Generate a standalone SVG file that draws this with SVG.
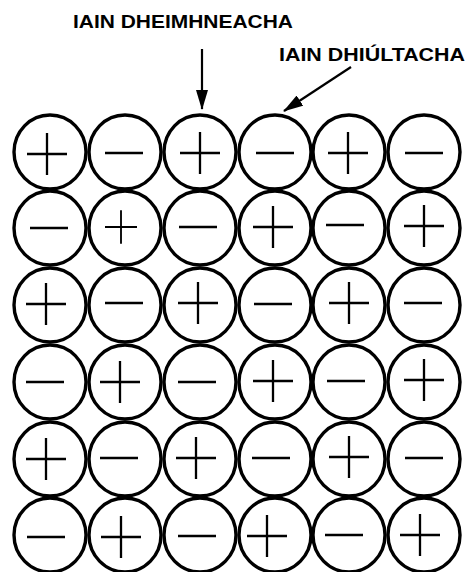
<svg xmlns="http://www.w3.org/2000/svg" width="468" height="572" viewBox="0 0 468 572">
<style>
.ion{fill:#fff;stroke:#000;stroke-width:3.4}
.sg{stroke:#000;stroke-width:2.3;fill:none}
.lbl{font-family:"Liberation Sans",Arial,sans-serif;font-weight:bold;font-size:18.5px;fill:#000}
.ar{stroke:#000;stroke-width:2.2;fill:none}
</style>
<defs>
<marker id="ah" viewBox="0 0 20 12" refX="19" refY="6" markerWidth="20" markerHeight="12" markerUnits="userSpaceOnUse" orient="auto">
<path d="M0,0 L20,6 L0,12 Z" fill="#000"/>
</marker>
<g id="p"><path class="sg" d="M-20,0 H20 M0,-21 V21"/></g>
<g id="m"><path class="sg" d="M-19,0 H19"/></g>
</defs>
<rect width="468" height="572" fill="#fff"/>
<text class="lbl" x="73" y="28" textLength="220" lengthAdjust="spacingAndGlyphs">IAIN DHEIMHNEACHA</text>
<text class="lbl" x="279" y="60.5" textLength="186" lengthAdjust="spacingAndGlyphs">IAIN DHIÚLTACHA</text>
<g id="connectors">
<line class="ar" x1="202" y1="49" x2="202" y2="109" marker-end="url(#ah)"/>
<line class="ar" x1="351" y1="67" x2="284" y2="111" marker-end="url(#ah)"/>
</g>
<g id="row1">
<g id="n11"><ellipse class="ion" cx="50" cy="152" rx="36" ry="37"/><use href="#p" x="47" y="154"/></g>
<g id="n12"><ellipse class="ion" cx="125" cy="152" rx="36" ry="37"/><use href="#m" x="124" y="153"/></g>
<g id="n13"><ellipse class="ion" cx="200" cy="152" rx="36" ry="37"/><use href="#p" x="200" y="153"/></g>
<g id="n14"><ellipse class="ion" cx="275" cy="152" rx="36" ry="37"/><use href="#m" x="275" y="153"/></g>
<g id="n15"><ellipse class="ion" cx="349" cy="152" rx="36" ry="37"/><use href="#p" x="348" y="153"/></g>
<g id="n16"><ellipse class="ion" cx="424" cy="152" rx="36" ry="37"/><use href="#m" x="424" y="153"/></g>
</g>
<g id="row2">
<g id="n21"><ellipse class="ion" cx="50" cy="228" rx="36" ry="37"/><use href="#m" x="49" y="228"/></g>
<g id="n22"><ellipse class="ion" cx="125" cy="228" rx="36" ry="37"/><use href="#p" x="121" y="227" transform="translate(121 227) scale(0.8) translate(-121 -227)"/></g>
<g id="n23"><ellipse class="ion" cx="200" cy="228" rx="36" ry="37"/><use href="#m" x="198" y="227"/></g>
<g id="n24"><ellipse class="ion" cx="275" cy="228" rx="36" ry="37"/><use href="#p" x="273" y="227"/></g>
<g id="n25"><ellipse class="ion" cx="349" cy="228" rx="36" ry="37"/><use href="#m" x="345" y="225"/></g>
<g id="n26"><ellipse class="ion" cx="424" cy="228" rx="36" ry="37"/><use href="#p" x="424" y="226"/></g>
</g>
<g id="row3">
<g id="n31"><ellipse class="ion" cx="50" cy="305" rx="36" ry="37"/><use href="#p" x="46" y="304"/></g>
<g id="n32"><ellipse class="ion" cx="125" cy="305" rx="36" ry="37"/><use href="#m" x="124" y="303"/></g>
<g id="n33"><ellipse class="ion" cx="200" cy="305" rx="36" ry="37"/><use href="#p" x="198" y="303"/></g>
<g id="n34"><ellipse class="ion" cx="275" cy="305" rx="36" ry="37"/><use href="#m" x="273" y="304"/></g>
<g id="n35"><ellipse class="ion" cx="349" cy="305" rx="36" ry="37"/><use href="#p" x="349" y="303"/></g>
<g id="n36"><ellipse class="ion" cx="424" cy="305" rx="36" ry="37"/><use href="#m" x="423" y="303"/></g>
</g>
<g id="row4">
<g id="n41"><ellipse class="ion" cx="50" cy="382" rx="36" ry="37"/><use href="#m" x="45" y="382"/></g>
<g id="n42"><ellipse class="ion" cx="125" cy="382" rx="36" ry="37"/><use href="#p" x="120" y="382"/></g>
<g id="n43"><ellipse class="ion" cx="200" cy="382" rx="36" ry="37"/><use href="#m" x="197" y="382"/></g>
<g id="n44"><ellipse class="ion" cx="275" cy="382" rx="36" ry="37"/><use href="#p" x="273" y="381"/></g>
<g id="n45"><ellipse class="ion" cx="349" cy="382" rx="36" ry="37"/><use href="#m" x="346" y="381"/></g>
<g id="n46"><ellipse class="ion" cx="424" cy="382" rx="36" ry="37"/><use href="#p" x="424" y="380"/></g>
</g>
<g id="row5">
<g id="n51"><ellipse class="ion" cx="50" cy="459" rx="36" ry="37"/><use href="#p" x="46" y="459"/></g>
<g id="n52"><ellipse class="ion" cx="125" cy="459" rx="36" ry="37"/><use href="#m" x="119" y="458"/></g>
<g id="n53"><ellipse class="ion" cx="200" cy="459" rx="36" ry="37"/><use href="#p" x="196" y="458"/></g>
<g id="n54"><ellipse class="ion" cx="275" cy="459" rx="36" ry="37"/><use href="#m" x="271" y="458"/></g>
<g id="n55"><ellipse class="ion" cx="349" cy="459" rx="36" ry="37"/><use href="#p" x="349" y="457"/></g>
<g id="n56"><ellipse class="ion" cx="424" cy="459" rx="36" ry="37"/><use href="#m" x="424" y="458"/></g>
</g>
<g id="row6">
<g id="n61"><ellipse class="ion" cx="50" cy="535" rx="36" ry="37"/><use href="#m" x="46" y="537"/></g>
<g id="n62"><ellipse class="ion" cx="125" cy="535" rx="36" ry="37"/><use href="#p" x="121" y="537"/></g>
<g id="n63"><ellipse class="ion" cx="200" cy="535" rx="36" ry="37"/><use href="#m" x="197" y="536"/></g>
<g id="n64"><ellipse class="ion" cx="275" cy="535" rx="36" ry="37"/><use href="#p" x="267" y="536"/></g>
<g id="n65"><ellipse class="ion" cx="349" cy="535" rx="36" ry="37"/><use href="#m" x="344" y="535"/></g>
<g id="n66"><ellipse class="ion" cx="424" cy="535" rx="36" ry="37"/><use href="#p" x="420" y="535"/></g>
</g>
</svg>
